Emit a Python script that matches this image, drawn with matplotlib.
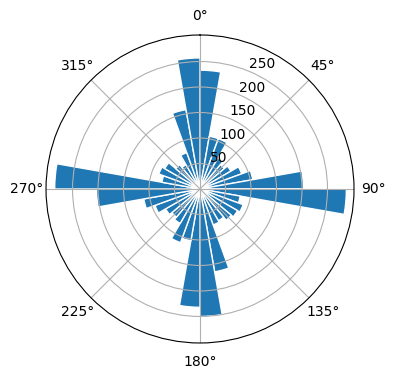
import numpy as np
import matplotlib
matplotlib.use("Agg")
import matplotlib.pyplot as plt

# direcciones en sectores de 10 grados (desde el norte, sentido horario)
sector_deg = np.arange(0, 360, 10)
cuentas = [233, 105, 105, 70, 62, 70, 87, 105, 203,
           287, 80, 90, 85, 80, 72, 75, 165, 250,
           232, 103, 112, 78, 72, 78, 94, 112, 203,
           285, 76, 86, 80, 62, 55, 76, 158, 257]

fig = plt.figure(figsize=(3.96, 3.80), dpi=100)
ax = fig.add_axes([0.1162, 0.0974, 0.7778, 0.8105], projection="polar")
ax.set_theta_zero_location("N")
ax.set_theta_direction(-1)

theta = np.deg2rad(sector_deg)
ax.bar(theta, cuentas, width=np.deg2rad(10), align="edge",
       color="#1f77b4", edgecolor="white", linewidth=1)

ax.set_rticks([50, 100, 150, 200, 250])
ax.set_rlim(0, 302)

fig.savefig("out.png", dpi=100)
